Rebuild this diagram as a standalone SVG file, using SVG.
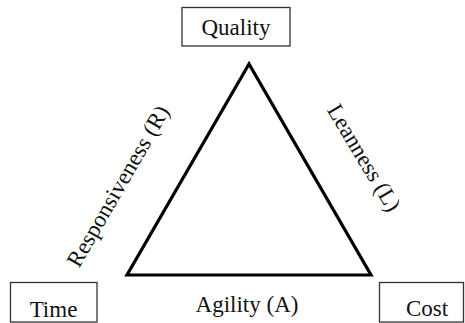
<svg xmlns="http://www.w3.org/2000/svg" width="465" height="323" viewBox="0 0 465 323">
<style>
.box{fill:#fff;stroke:#333;stroke-width:1.3}
.lbl{font-family:"Liberation Serif","Times New Roman",serif;font-size:23px;fill:#111;text-anchor:middle}
.tri{fill:none;stroke:#000;stroke-width:3.2;stroke-linejoin:miter}
</style>
<rect width="465" height="323" fill="#fff"/>
<g id="connectors">
<polygon class="tri" points="249,64 127,275 371,275"/>
</g>
<g id="quality"><rect class="box" x="182" y="7.5" width="108" height="38.5"/><text class="lbl" x="236" y="35">Quality</text></g>
<g id="time"><rect class="box" x="10.5" y="282.5" width="86.5" height="39.5"/><text class="lbl" x="53.5" y="317">Time</text></g>
<g id="cost"><rect class="box" x="379.5" y="282.5" width="84" height="39.5"/><text class="lbl" x="427" y="316">Cost</text></g>
<g id="edge-r"><text class="lbl" transform="translate(118.5,186.5) rotate(-60)" x="0" y="7">Responsiveness (R)</text></g>
<g id="edge-l"><text class="lbl" transform="translate(363.5,158) rotate(59)" x="0" y="7">Leanness (L)</text></g>
<g id="edge-a"><text class="lbl" x="247" y="312">Agility (A)</text></g>
</svg>
